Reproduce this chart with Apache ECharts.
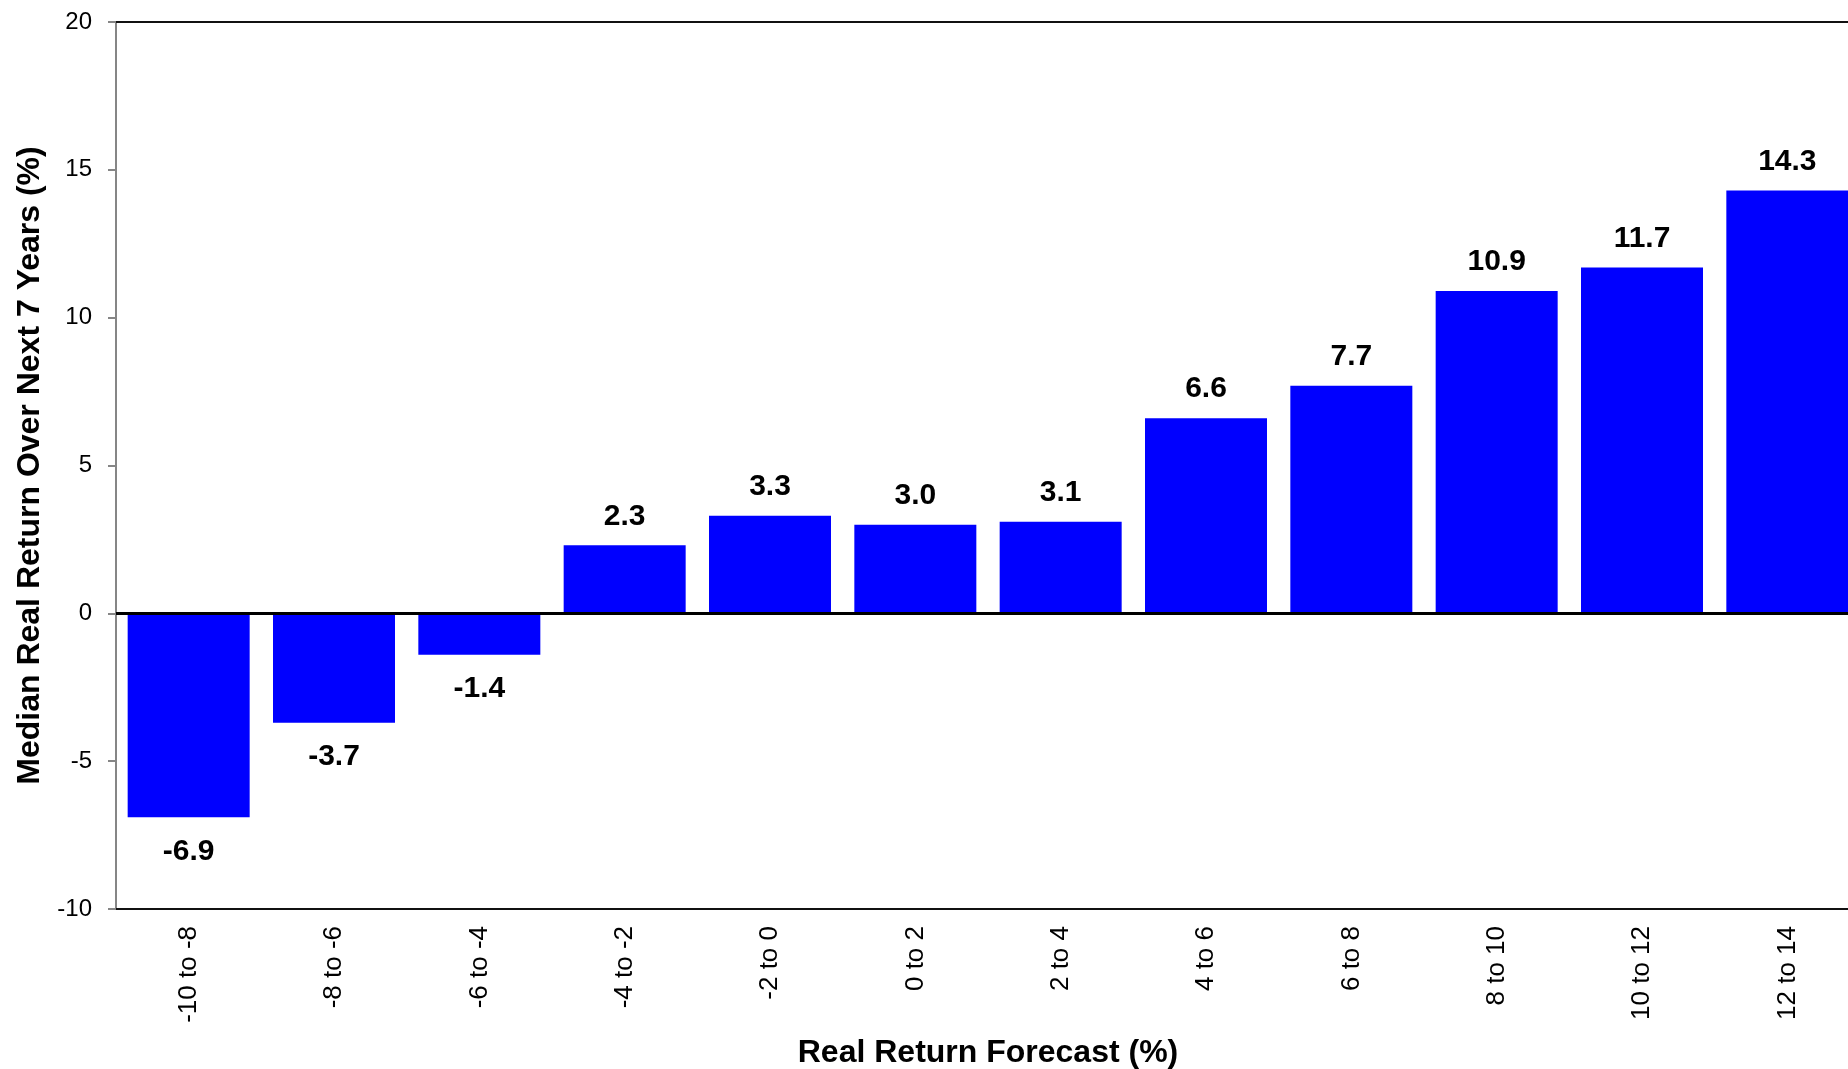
<!DOCTYPE html>
<html>
<head>
<meta charset="utf-8">
<title>Median Real Return by Forecast Bucket</title>
<script src="https://cdn.jsdelivr.net/npm/echarts@6/dist/echarts.min.js"></script>
<style>
  html, body { margin: 0; padding: 0; background: #ffffff; }
  #chart { width: 1848px; height: 1069px; }
</style>
</head>
<body>
<div id="chart"></div>
<script>
// Forecast buckets (%) along the horizontal axis
const categories = ['-10 to -8', '-8 to -6', '-6 to -4', '-4 to -2', '-2 to 0', '0 to 2',
                    '2 to 4', '4 to 6', '6 to 8', '8 to 10', '10 to 12', '12 to 14'];

// Median real return over the following 7 years (%)
const medianReturns = [-6.9, -3.7, -1.4, 2.3, 3.3, 3.0, 3.1, 6.6, 7.7, 10.9, 11.7, 14.3];

// Value axis range and step
const yMin = -10;
const yMax = 20;
const yStep = 5;

const xTitle = 'Real Return Forecast (%)';
const yTitle = 'Median Real Return Over Next 7 Years (%)';

const FONT = '"Liberation Sans", Arial, Helvetica, sans-serif';

const chart = echarts.init(document.getElementById('chart'), null, { renderer: 'canvas' });

const barData = medianReturns.map(v => ({
  value: v,
  label: {
    position: v < 0 ? 'bottom' : 'top',
    distance: v < 0 ? 19 : 14
  }
}));

chart.setOption({
  backgroundColor: '#ffffff',
  animation: false,
  grid: {
    left: 116,
    top: 22,
    width: 1744,
    height: 887,
    containLabel: false,
    outerBoundsMode: 'none'
  },
  xAxis: [
    {
      type: 'category',
      data: categories,
      position: 'bottom',
      name: xTitle,
      nameLocation: 'middle',
      nameGap: 128,
      nameTextStyle: { fontFamily: FONT, fontSize: 32, fontWeight: 'bold', color: '#000' },
      axisLine: { onZero: false, lineStyle: { color: '#111', width: 2 } },
      axisTick: { show: false },
      axisLabel: {
        rotate: 90,
        margin: 17,
        fontFamily: FONT,
        fontSize: 26,
        color: '#000',
        interval: 0
      },
      splitLine: { show: false }
    },
    {
      // plain frame line along the top of the plot
      type: 'category',
      data: categories,
      position: 'top',
      axisLine: { onZero: false, lineStyle: { color: '#111', width: 2 } },
      axisTick: { show: false },
      axisLabel: { show: false },
      splitLine: { show: false }
    }
  ],
  yAxis: {
    type: 'value',
    min: yMin,
    max: yMax,
    interval: yStep,
    name: yTitle,
    nameLocation: 'middle',
    nameRotate: 90,
    nameGap: 68,
    nameTextStyle: { fontFamily: FONT, fontSize: 32, fontWeight: 'bold', color: '#000' },
    axisLine: { show: true, lineStyle: { color: '#868686', width: 2 } },
    axisTick: { show: true, inside: false, length: 8, lineStyle: { color: '#868686', width: 2 } },
    axisLabel: {
      margin: 24,
      fontFamily: FONT,
      fontSize: 24,
      color: '#000'
    },
    splitLine: { show: false }
  },
  series: [
    {
      type: 'bar',
      xAxisIndex: 0,
      data: barData,
      barWidth: 122,
      itemStyle: { color: '#0000ff' },
      label: {
        show: true,
        fontFamily: FONT,
        fontSize: 30,
        fontWeight: 'bold',
        color: '#000',
        formatter: p => Number(p.value).toFixed(1)
      },
      markLine: {
        silent: true,
        symbol: 'none',
        label: { show: false },
        lineStyle: { color: '#000', width: 3, type: 'solid' },
        data: [{ yAxis: 0 }]
      }
    }
  ]
});
</script>
</body>
</html>
